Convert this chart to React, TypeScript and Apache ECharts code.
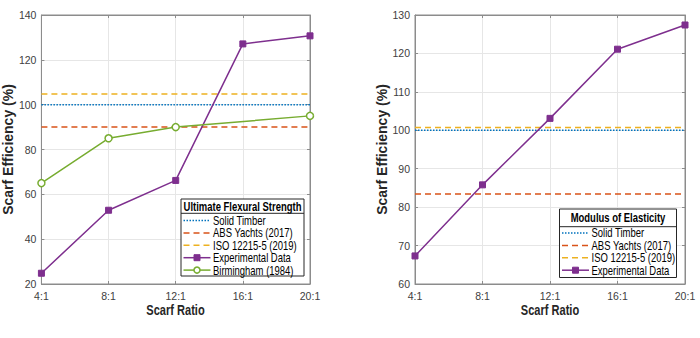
import React, { useEffect, useRef } from "react";
import * as echarts from "echarts";

// ---- data ----
const ratios = ["4:1", "8:1", "12:1", "16:1", "20:1"];

const flexExperimental = [24.8, 52.9, 66.2, 127.1, 130.7];
const flexBirmingham: (number | null)[] = [65, 85, 90, null, 95];
const flexSolidTimber = 100;
const flexABS = 90;
const flexISO = 104.8;

const moeExperimental = [67.3, 85.8, 103.1, 121.1, 127.4];
const moeSolidTimber = 100;
const moeABS = 83.4;
const moeISO = 100.7;

const flexYAxis = { min: 20, max: 140, interval: 20 };
const moeYAxis = { min: 60, max: 130, interval: 10 };

const flexTitle = "Ultimate Flexural Strength";
const moeTitle = "Modulus of Elasticity";
const xTitle = "Scarf Ratio";
const yTitle = "Scarf Efficiency (%)";
const nameSolid = "Solid Timber";
const nameABS = "ABS Yachts (2017)";
const nameISO = "ISO 12215-5 (2019)";
const nameExp = "Experimental Data";
const nameBirm = "Birmingham (1984)";

// ---- styles ----
const C_BLUE = "#0072BD";
const C_ORANGE = "#D95319";
const C_YELLOW = "#EDB120";
const C_PURPLE = "#7E2F8E";
const C_GREEN = "#77AC30";
const SANS = '"Liberation Sans", Arial, sans-serif';
const AXIS_C = "#8c8c8c";
const DOT = [1.5, 1.5];
const DASH = [6, 4];
const SX = 0.79;

const flat = (v: number) => ratios.map(() => v);

type Entry = { name: string; color: string; dash: number[] | null; marker?: "rect" | "circle" };

function legendGraphic(
  x: number, y: number, w: number, h: number, title: string, titleH: number,
  row0: number, step: number, entries: Entry[]
) {
  const els: any[] = [];
  els.push({
    type: "rect", z: 10, shape: { x, y, width: w, height: h },
    style: { fill: "#fff", stroke: "#262626", lineWidth: 1 },
  });
  els.push({
    type: "text", z: 11, x: x + w / 2, y: y + titleH / 2, scaleX: SX,
    style: { text: title, fontFamily: SANS, fontWeight: "bold", fontSize: 12, fill: "#000", align: "center", verticalAlign: "middle" },
  });
  els.push({
    type: "line", z: 11, shape: { x1: x, y1: y + titleH, x2: x + w, y2: y + titleH },
    style: { stroke: "#262626", lineWidth: 1 },
  });
  const sx = x + 2.5;
  const sw = 27;
  entries.forEach((e, i) => {
    const cy = row0 + i * step;
    els.push({
      type: "line", z: 11, shape: { x1: sx, y1: cy, x2: sx + sw, y2: cy },
      style: { stroke: e.color, lineWidth: 1.5, lineDash: e.dash || undefined },
    });
    if (e.marker === "rect") {
      els.push({ type: "rect", z: 12, shape: { x: sx + sw / 2 - 3, y: cy - 3, width: 6, height: 6 }, style: { fill: e.color, stroke: e.color } });
    } else if (e.marker === "circle") {
      els.push({ type: "circle", z: 12, shape: { cx: sx + sw / 2, cy, r: 3 }, style: { fill: "#fff", stroke: e.color, lineWidth: 1.5 } });
    }
    els.push({
      type: "text", z: 11, x: sx + sw + 2.5, y: cy, scaleX: SX,
      style: { text: e.name, fontFamily: SANS, fontSize: 12, fill: "#000", verticalAlign: "middle" },
    });
  });
  return els;
}

function xTitleGraphic(cx: number, cy: number) {
  return {
    type: "text", z: 11, x: cx, y: cy, scaleX: SX,
    style: { text: xTitle, fontFamily: SANS, fontWeight: "bold", fontSize: 14, fill: "#262626", align: "center", verticalAlign: "middle" },
  };
}

function catAxis(gridIndex: number, position: "bottom" | "top", withLabel: boolean) {
  return {
    type: "category", gridIndex, position, data: ratios, boundaryGap: false,
    axisLine: { show: true, lineStyle: { color: AXIS_C, width: 1 } },
    axisTick: { show: true, inside: true, length: 3, alignWithLabel: true, lineStyle: { color: AXIS_C } },
    axisLabel: { show: withLabel, color: "#404040", fontFamily: SANS, fontSize: 10.5, margin: 6 },
    splitLine: { show: withLabel, lineStyle: { color: "#e6e6e6", width: 1 } },
  };
}

function valAxis(gridIndex: number, position: "left" | "right", withLabel: boolean, r: { min: number; max: number; interval: number }, nameGap: number) {
  return {
    type: "value", gridIndex, position, min: r.min, max: r.max, interval: r.interval,
    axisLine: { show: true, lineStyle: { color: AXIS_C, width: 1 } },
    axisTick: { show: true, inside: true, length: 3, lineStyle: { color: AXIS_C } },
    axisLabel: { show: withLabel, color: "#404040", fontFamily: SANS, fontSize: 10.5, margin: 5 },
    splitLine: { show: withLabel, lineStyle: { color: "#e6e6e6", width: 1 } },
    name: withLabel ? yTitle : "",
    nameLocation: "middle", nameGap, nameRotate: 90,
    nameTextStyle: { fontFamily: SANS, fontWeight: "bold", fontSize: 14, color: "#262626" },
  };
}

function refLine(name: string, v: number, color: string, dash: number[], xi: number) {
  return {
    type: "line", name, xAxisIndex: xi, yAxisIndex: xi, data: flat(v), symbol: "none",
    lineStyle: { color, width: 1.5, type: dash }, z: 3,
  };
}

export default function App() {
  const ref = useRef<HTMLDivElement>(null);
  useEffect(() => {
    if (!ref.current) return;
    const chart = echarts.init(ref.current, undefined, { renderer: "svg" });
    const option: any = {
      animation: false,
      backgroundColor: "#fff",
      grid: [
        { left: 41, top: 15, width: 269, height: 269, show: true, borderColor: AXIS_C, borderWidth: 1, backgroundColor: "transparent" },
        { left: 415, top: 15, width: 270, height: 269, show: true, borderColor: AXIS_C, borderWidth: 1, backgroundColor: "transparent" },
      ],
      xAxis: [catAxis(0, "bottom", true), catAxis(0, "top", false), catAxis(1, "bottom", true), catAxis(1, "top", false)],
      yAxis: [
        valAxis(0, "left", true, flexYAxis, 23),
        valAxis(0, "right", false, flexYAxis, 0),
        valAxis(1, "left", true, moeYAxis, 21),
        valAxis(1, "right", false, moeYAxis, 0),
      ],
      series: [
        refLine(nameSolid, flexSolidTimber, C_BLUE, DOT, 0),
        refLine(nameABS, flexABS, C_ORANGE, DASH, 0),
        refLine(nameISO, flexISO, C_YELLOW, DASH, 0),
        {
          type: "line", name: nameExp, xAxisIndex: 0, yAxisIndex: 0, data: flexExperimental,
          symbol: "rect", symbolSize: 6, lineStyle: { color: C_PURPLE, width: 1.5 },
          itemStyle: { color: C_PURPLE, borderColor: C_PURPLE }, z: 4,
        },
        {
          type: "line", name: nameBirm, xAxisIndex: 0, yAxisIndex: 0, data: flexBirmingham, connectNulls: true,
          symbol: "circle", symbolSize: 7, lineStyle: { color: C_GREEN, width: 1.5 },
          itemStyle: { color: "#fff", borderColor: C_GREEN, borderWidth: 1.5 }, z: 4,
        },
        refLine(nameSolid, moeSolidTimber, C_BLUE, DOT, 2),
        refLine(nameABS, moeABS, C_ORANGE, DASH, 2),
        refLine(nameISO, moeISO, C_YELLOW, DASH, 2),
        {
          type: "line", name: nameExp, xAxisIndex: 2, yAxisIndex: 2, data: moeExperimental,
          symbol: "rect", symbolSize: 6, lineStyle: { color: C_PURPLE, width: 1.5 },
          itemStyle: { color: C_PURPLE, borderColor: C_PURPLE }, z: 4,
        },
      ],
      graphic: [
        xTitleGraphic(175.5, 310.5),
        xTitleGraphic(550, 310.5),
        ...legendGraphic(181, 199, 123, 77, flexTitle, 14.3, 220.5, 12.4, [
          { name: nameSolid, color: C_BLUE, dash: DOT },
          { name: nameABS, color: C_ORANGE, dash: DASH },
          { name: nameISO, color: C_YELLOW, dash: DASH },
          { name: nameExp, color: C_PURPLE, dash: null, marker: "rect" },
          { name: nameBirm, color: C_GREEN, dash: null, marker: "circle" },
        ]),
        ...legendGraphic(559.5, 209, 117, 68.5, moeTitle, 17.7, 233, 12.4, [
          { name: nameSolid, color: C_BLUE, dash: DOT },
          { name: nameABS, color: C_ORANGE, dash: DASH },
          { name: nameISO, color: C_YELLOW, dash: DASH },
          { name: nameExp, color: C_PURPLE, dash: null, marker: "rect" },
        ]),
      ],
    };
    chart.setOption(option);
    return () => chart.dispose();
  }, []);
  return <div ref={ref} style={{ position: "fixed", left: 0, top: 0, width: 700, height: 338, background: "#fff" }} />;
}
